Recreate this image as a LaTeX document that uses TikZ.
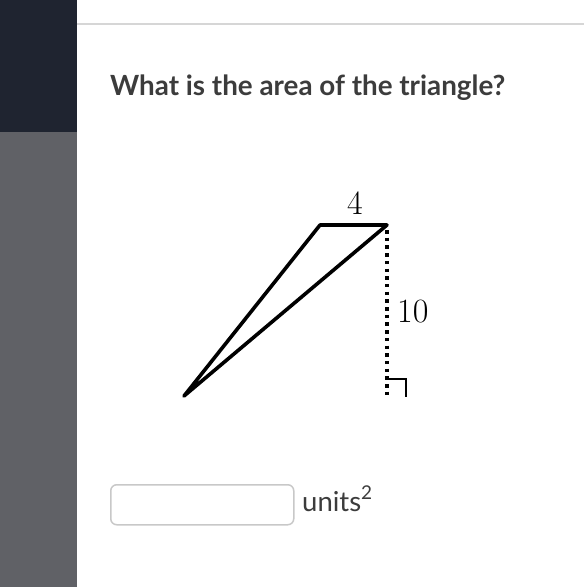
\documentclass[tikz,border=0pt]{standalone}
\usepackage{fontspec}
\usepackage{xcolor}
\newfontfamily\latofont{Lato}
\definecolor{panel-dark}{HTML}{1F2430}
\definecolor{panel-grey}{HTML}{606166}
\definecolor{title-grey}{HTML}{3C3C3C}
\definecolor{rule-grey}{HTML}{D6D6D6}
\definecolor{box-grey}{HTML}{C8C8C8}
\tikzset{
    tri-line/.style = {draw=black, line width=3.6pt, line join=round, line cap=round},
    dim-line/.style = {draw=black, line width=3.6pt, dash pattern=on 3.5pt off 4.2pt},
    answer-box/.style = {draw=box-grey, fill=white, line width=1.5pt, rectangle, rounded corners=6pt, minimum width=183pt, minimum height=40pt, inner sep=0pt},
    label-text/.style = {font=\fontsize{34}{34}\selectfont, inner sep=0pt},
}

\begin{document}
\begin{tikzpicture}[x=1pt, y=-1pt]
\useasboundingbox (0,0) rectangle (584,587);
\fill[white] (0,0) rectangle (584,587);
% left panel
\fill[panel-dark] (0,0) rectangle (77,132);
\fill[panel-grey] (0,132) rectangle (77,587);
\draw[rule-grey, line width=1.5pt] (77,24) -- (584,24);
% question
\node[anchor=base west, inner sep=0pt, text=title-grey, font=\latofont\bfseries\fontsize{27.8}{27.8}\selectfont] (question) at (110,95) {What is the area of the triangle?};
% triangle
\coordinate (apex) at (184,396);
\coordinate (top-left) at (320,225);
\coordinate (top-right) at (387,225);
\coordinate (foot) at (387,397);
\draw[tri-line] (apex) -- (top-left) -- (top-right) -- cycle;
\draw[dim-line] (top-right) ++(0,5) -- (foot);
\draw[black, line width=2pt] (388,379) -- (405.5,379) -- (405.5,397);
\node[label-text, anchor=base] (base-len) at (355,214) {4};
\node[label-text, anchor=base west] (height-len) at (397,322) {10};
% answer
\node[answer-box, anchor=north west] (answer) at (110,484) {};
\node[anchor=base west, inner sep=0pt, text=title-grey, font=\latofont\fontsize{27.5}{27.5}\selectfont] (unit) at (302,511) {units\raisebox{12pt}{\fontsize{19}{19}\selectfont 2}};
\end{tikzpicture}
\end{document}
